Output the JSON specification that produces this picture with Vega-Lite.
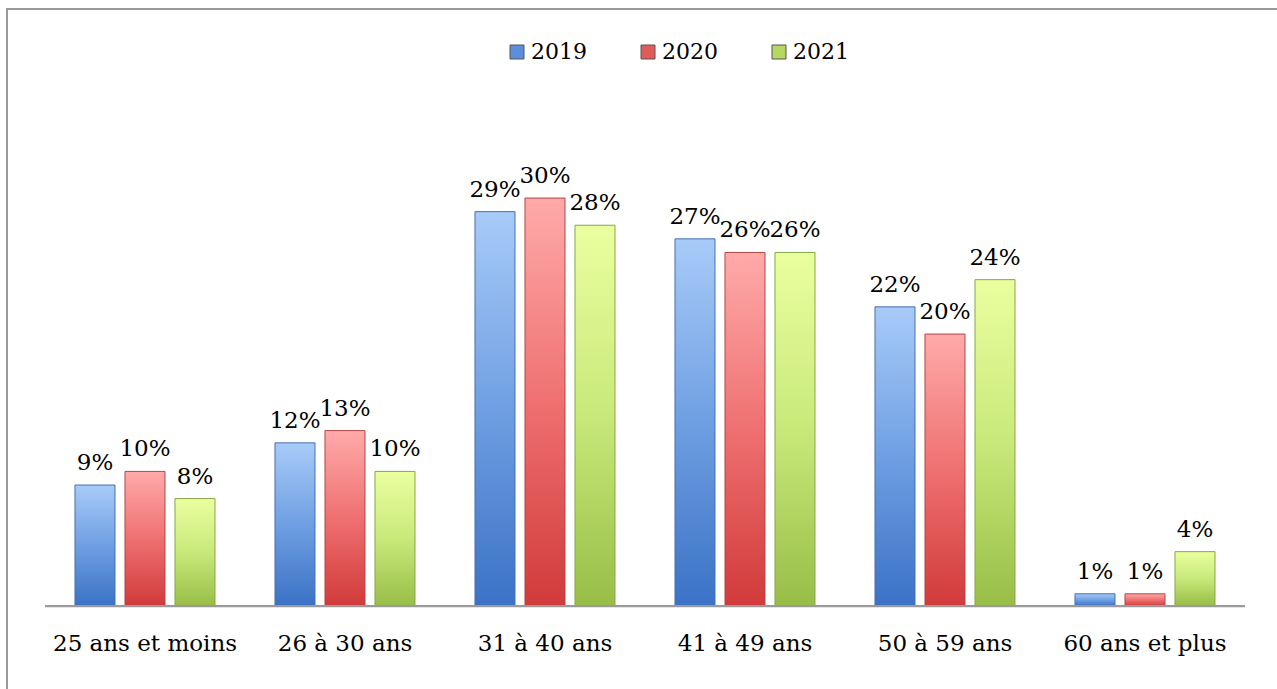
{
  "$schema": "https://vega.github.io/schema/vega-lite/v6.json",
  "autosize": "none",
  "width": 1290,
  "height": 700,
  "padding": {"left": 7, "top": 9, "right": 0, "bottom": 0},
  "background": "white",
  "config": {
    "view": {"stroke": "#9a9a9a", "strokeWidth": 2},
    "font": "DejaVu Serif"
  },
  "datasets": {
    "bars": [
      {"cat": "25 ans et moins", "year": "2019", "value": 0.089},
      {"cat": "25 ans et moins", "year": "2020", "value": 0.099},
      {"cat": "25 ans et moins", "year": "2021", "value": 0.079},
      {"cat": "26 à 30 ans", "year": "2019", "value": 0.120},
      {"cat": "26 à 30 ans", "year": "2020", "value": 0.129},
      {"cat": "26 à 30 ans", "year": "2021", "value": 0.099},
      {"cat": "31 à 40 ans", "year": "2019", "value": 0.290},
      {"cat": "31 à 40 ans", "year": "2020", "value": 0.300},
      {"cat": "31 à 40 ans", "year": "2021", "value": 0.280},
      {"cat": "41 à 49 ans", "year": "2019", "value": 0.270},
      {"cat": "41 à 49 ans", "year": "2020", "value": 0.260},
      {"cat": "41 à 49 ans", "year": "2021", "value": 0.260},
      {"cat": "50 à 59 ans", "year": "2019", "value": 0.220},
      {"cat": "50 à 59 ans", "year": "2020", "value": 0.200},
      {"cat": "50 à 59 ans", "year": "2021", "value": 0.240},
      {"cat": "60 ans et plus", "year": "2019", "value": 0.009},
      {"cat": "60 ans et plus", "year": "2020", "value": 0.009},
      {"cat": "60 ans et plus", "year": "2021", "value": 0.040}
    ],
    "cats": [
      {"cat": "25 ans et moins"},
      {"cat": "26 à 30 ans"},
      {"cat": "31 à 40 ans"},
      {"cat": "41 à 49 ans"},
      {"cat": "50 à 59 ans"},
      {"cat": "60 ans et plus"}
    ]
  },
  "layer": [
    {
      "data": {"name": "bars"},
      "mark": {"type": "bar", "strokeWidth": 1},
      "encoding": {
        "x": {
          "field": "cat",
          "type": "nominal",
          "sort": ["25 ans et moins", "26 à 30 ans", "31 à 40 ans", "41 à 49 ans", "50 à 59 ans", "60 ans et plus"],
          "scale": {"paddingInner": 0, "paddingOuter": 0.225, "align": 0.4222},
          "axis": {
            "title": null,
            "domain": false,
            "ticks": false,
            "offset": -103,
            "labelAngle": 0,
            "labelFontSize": 23,
            "labelColor": "#000000",
            "labelPadding": 26,
            "labelLimit": 0,
            "labelFont": "DejaVu Serif"
          }
        },
        "xOffset": {
          "field": "year",
          "type": "nominal",
          "scale": {"paddingInner": 0.2, "paddingOuter": 0.6}
        },
        "y": {
          "field": "value",
          "type": "quantitative",
          "scale": {"domain": [-0.0757, 0.439], "nice": false, "zero": false},
          "axis": null
        },
        "y2": {"datum": 0},
        "fill": {
          "condition": [
            {"test": "datum.year === '2019'", "value": {"gradient": "linear", "x1": 0, "y1": 0, "x2": 0, "y2": 1, "stops": [{"offset": 0, "color": "#a8cbf8"}, {"offset": 0.5, "color": "#6f9fe2"}, {"offset": 1, "color": "#3b72c6"}]}},
            {"test": "datum.year === '2020'", "value": {"gradient": "linear", "x1": 0, "y1": 0, "x2": 0, "y2": 1, "stops": [{"offset": 0, "color": "#ffaaaa"}, {"offset": 0.5, "color": "#ef7070"}, {"offset": 1, "color": "#d13a3a"}]}}
          ],
          "value": {"gradient": "linear", "x1": 0, "y1": 0, "x2": 0, "y2": 1, "stops": [{"offset": 0, "color": "#eaff9f"}, {"offset": 0.5, "color": "#c8e97a"}, {"offset": 1, "color": "#98bd47"}]}
        },
        "stroke": {
          "condition": [
            {"test": "datum.year === '2019'", "value": "#4470b0"},
            {"test": "datum.year === '2020'", "value": "#b54545"}
          ],
          "value": "#86a744"
        }
      }
    },
    {
      "data": {"name": "bars"},
      "mark": {"type": "bar", "opacity": 0},
      "encoding": {
        "x": {
          "field": "cat",
          "type": "nominal",
          "sort": ["25 ans et moins", "26 à 30 ans", "31 à 40 ans", "41 à 49 ans", "50 à 59 ans", "60 ans et plus"]
        },
        "xOffset": {"field": "year", "type": "nominal"},
        "y": {"field": "value", "type": "quantitative"},
        "y2": {"datum": 0},
        "fill": {
          "field": "year",
          "type": "nominal",
          "scale": {"domain": ["2019", "2020", "2021"], "range": ["#5b8fdc", "#e25a5a", "#b5d862"]},
          "legend": {
            "title": null,
            "orient": "none",
            "legendX": 499,
            "legendY": 32,
            "direction": "horizontal",
            "symbolType": "square",
            "symbolSize": 196,
            "symbolOpacity": 1,
            "symbolStrokeWidth": 1,
            "symbolStrokeColor": "#555555",
            "labelFontSize": 22,
            "labelFont": "DejaVu Serif",
            "labelColor": "#000000",
            "labelOffset": 3,
            "columnPadding": 50
          }
        }
      }
    },
    {
      "data": {"name": "bars"},
      "mark": {"type": "text", "baseline": "alphabetic", "dy": -15, "fontSize": 23, "font": "DejaVu Serif", "color": "#000000"},
      "encoding": {
        "x": {
          "field": "cat",
          "type": "nominal",
          "sort": ["25 ans et moins", "26 à 30 ans", "31 à 40 ans", "41 à 49 ans", "50 à 59 ans", "60 ans et plus"]
        },
        "xOffset": {"field": "year", "type": "nominal"},
        "y": {"field": "value", "type": "quantitative"},
        "text": {"field": "value", "type": "quantitative", "format": ".0%"}
      }
    },
    {
      "data": {"name": "cats"},
      "mark": {"type": "bar", "color": "#9a9a9a"},
      "encoding": {
        "x": {
          "field": "cat",
          "type": "nominal",
          "sort": ["25 ans et moins", "26 à 30 ans", "31 à 40 ans", "41 à 49 ans", "50 à 59 ans", "60 ans et plus"]
        },
        "y": {"datum": 0.0008},
        "y2": {"datum": -0.0008}
      }
    }
  ]
}
